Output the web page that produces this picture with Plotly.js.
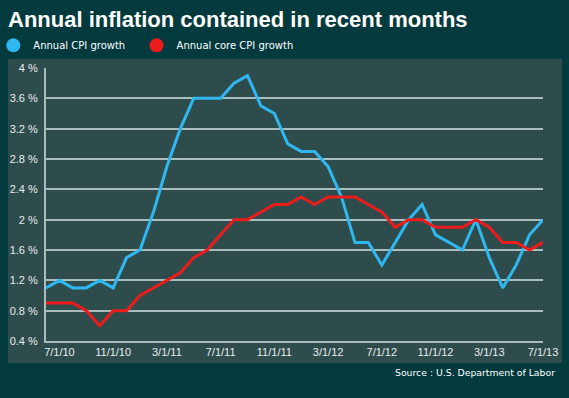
<!DOCTYPE html>
<html>
<head>
<meta charset="utf-8">
<script src="https://cdn.plot.ly/plotly-3.0.1.min.js"></script>
<style>
  html, body { margin: 0; padding: 0; background: #033a3d; }
  #chart { width: 569px; height: 398px; }
</style>
</head>
<body>
<div id="chart"></div>
<script>
// Monthly dates (June 2010 .. July 2013)
const months = [
  "6/1/10","7/1/10","8/1/10","9/1/10","10/1/10","11/1/10","12/1/10",
  "1/1/11","2/1/11","3/1/11","4/1/11","5/1/11","6/1/11","7/1/11","8/1/11","9/1/11","10/1/11","11/1/11","12/1/11",
  "1/1/12","2/1/12","3/1/12","4/1/12","5/1/12","6/1/12","7/1/12","8/1/12","9/1/12","10/1/12","11/1/12","12/1/12",
  "1/1/13","2/1/13","3/1/13","4/1/13","5/1/13","6/1/13","7/1/13"
];
const cpiGrowth = [
  1.1, 1.2, 1.1, 1.1, 1.2, 1.1, 1.5,
  1.6, 2.1, 2.7, 3.2, 3.6, 3.6, 3.6, 3.8, 3.9, 3.5, 3.4, 3.0,
  2.9, 2.9, 2.7, 2.3, 1.7, 1.7, 1.4, 1.7, 2.0, 2.2, 1.8, 1.7,
  1.6, 2.0, 1.5, 1.1, 1.4, 1.8, 2.0
];
const coreCpiGrowth = [
  0.9, 0.9, 0.9, 0.8, 0.6, 0.8, 0.8,
  1.0, 1.1, 1.2, 1.3, 1.5, 1.6, 1.8, 2.0, 2.0, 2.1, 2.2, 2.2,
  2.3, 2.2, 2.3, 2.3, 2.3, 2.2, 2.1, 1.9, 2.0, 2.0, 1.9, 1.9,
  1.9, 2.0, 1.9, 1.7, 1.7, 1.6, 1.7
];
const xTickLabels = ["7/1/10","11/1/10","3/1/11","7/1/11","11/1/11","3/1/12","7/1/12","11/1/12","3/1/13","7/1/13"];
const yTickValues = [0.4, 0.8, 1.2, 1.6, 2.0, 2.4, 2.8, 3.2, 3.6, 4.0];
const yTickLabels = ["0.4 %","0.8 %","1.2 %","1.6 %","2 %","2.4 %","2.8 %","3.2 %","3.6 %","4 %"];
const seriesNames = ["Annual CPI growth", "Annual core CPI growth"];
const seriesColors = ["#2fb7f0", "#ec1c1c"];

const traces = [
  { x: months, y: cpiGrowth, type: "scatter", mode: "lines", showlegend: false,
    line: { color: seriesColors[0], width: 3 }, hoverinfo: "skip" },
  { x: months, y: coreCpiGrowth, type: "scatter", mode: "lines", showlegend: false,
    line: { color: seriesColors[1], width: 3 }, hoverinfo: "skip" },
  // legend entries (circle markers); trailing no-break spaces widen the gap between entries
  { x: [null], y: [null], type: "scatter", mode: "markers", name: seriesNames[0] + "\u00a0\u00a0",
    marker: { color: seriesColors[0], size: 14 } },
  { x: [null], y: [null], type: "scatter", mode: "markers", name: seriesNames[1],
    marker: { color: seriesColors[1], size: 14 } }
];

const layout = {
  width: 569, height: 398,
  margin: { l: 46, r: 26, t: 68, b: 57, autoexpand: false },
  paper_bgcolor: "#033a3d",
  plot_bgcolor: "rgba(0,0,0,0)",
  title: {
    text: "<b>Annual inflation contained in recent months</b>",
    font: { family: "Liberation Sans, Arial, sans-serif", size: 22, color: "#ffffff" },
    x: 8 / 569, xref: "container", xanchor: "left",
    y: 0.951, yref: "container", yanchor: "middle",
    automargin: false
  },
  showlegend: true,
  legend: {
    orientation: "h", x: -0.106, xanchor: "left", y: 1.083, yanchor: "middle",
    font: { family: "DejaVu Sans, Verdana, sans-serif", size: 10, color: "#ffffff" },
    bgcolor: "rgba(0,0,0,0)", itemwidth: 30
  },
  xaxis: {
    type: "category",
    range: [0, 37],
    automargin: false,
    tickmode: "array", tickvals: xTickLabels, ticktext: xTickLabels,
    showgrid: false, zeroline: false,
    showline: true, linecolor: "#aabdbd", linewidth: 2,
    ticks: "", ticklen: 0,
    tickfont: { family: "Liberation Sans, Arial, sans-serif", size: 11, color: "#e6eded" },
    fixedrange: true
  },
  yaxis: {
    range: [0.4, 4.0],
    automargin: false,
    tickmode: "array", tickvals: yTickValues, ticktext: yTickLabels,
    showgrid: true, gridcolor: "#aabdbd", gridwidth: 1.8,
    zeroline: false,
    showline: true, linecolor: "#aabdbd", linewidth: 2,
    ticks: "", ticklen: 0, ticklabelstandoff: 4,
    tickfont: { family: "Liberation Sans, Arial, sans-serif", size: 11, color: "#e6eded" },
    fixedrange: true
  },
  shapes: [
    { type: "rect", xref: "paper", yref: "paper", layer: "below",
      x0: (8 - 46) / 497, x1: (562 - 46) / 497, y0: (341 - 363) / 273, y1: (341 - 59) / 273,
      fillcolor: "#2f4c4d", line: { width: 0 } }
  ],
  annotations: [
    { text: "Source : U.S. Department of Labor", xref: "paper", yref: "paper",
      x: (557 - 46) / 497, xanchor: "right", y: (341 - 372) / 273, yanchor: "middle",
      showarrow: false,
      font: { family: "DejaVu Sans, Verdana, sans-serif", size: 9.3, color: "#ffffff" } }
  ]
};

Plotly.newPlot("chart", traces, layout, { displayModeBar: false, staticPlot: true });
</script>
</body>
</html>
